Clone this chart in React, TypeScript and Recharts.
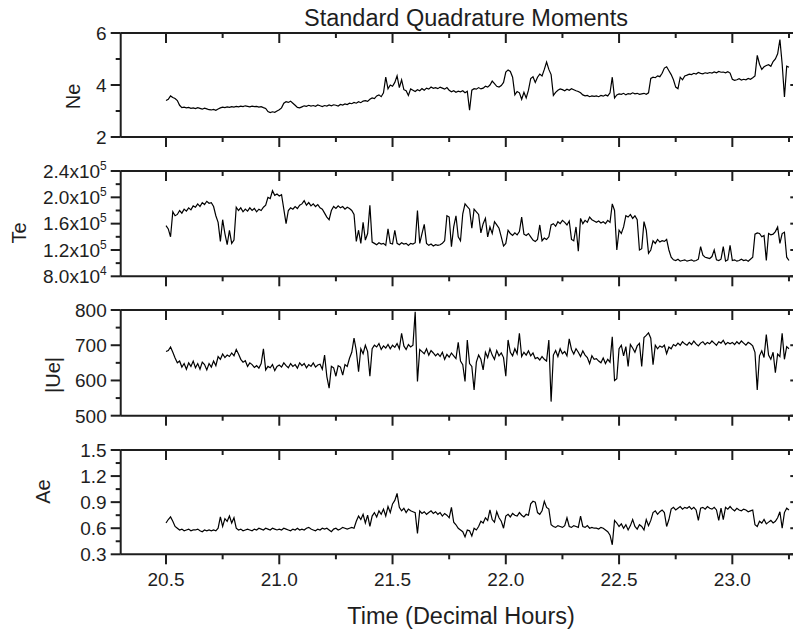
import React from 'react';
import { LineChart, Line, XAxis, YAxis } from 'recharts';

// sampling of the moment series (decimal hours)
const T_START = 20.5;
const T_STEP = 0.01;

const NE = [
  3.40, 3.45, 3.58, 3.52, 3.48, 3.40, 3.22, 3.13, 3.15, 3.12,
  3.14, 3.10, 3.12, 3.09, 3.13, 3.10, 3.07, 3.11, 3.08, 3.05,
  3.04, 3.06, 3.03, 3.08, 3.12, 3.15, 3.13, 3.16, 3.14, 3.17,
  3.15, 3.18, 3.16, 3.19, 3.17, 3.20, 3.18, 3.16, 3.19, 3.17,
  3.18, 3.15, 3.17, 3.13, 3.10, 2.98, 2.94, 2.97, 2.95, 3.00,
  3.05, 3.12, 3.30, 3.36, 3.33, 3.38, 3.30, 3.22, 3.14, 3.12,
  3.16, 3.20, 3.18, 3.22, 3.19, 3.21, 3.18, 3.23, 3.20, 3.17,
  3.21, 3.19, 3.23, 3.20, 3.24, 3.22, 3.19, 3.25, 3.23, 3.27,
  3.25, 3.30, 3.28, 3.33, 3.30, 3.36, 3.32, 3.38, 3.40, 3.37,
  3.45, 3.50, 3.48, 3.58, 3.62, 3.55, 3.70, 4.30, 3.85, 4.00,
  3.95, 4.10, 4.35, 3.90, 4.20, 3.82, 3.78, 3.60, 3.85, 3.80,
  3.75, 3.82, 3.78, 3.86, 3.80, 3.88, 3.84, 3.92, 3.87, 3.90,
  3.86, 3.92, 3.88, 3.84, 3.90, 3.80, 3.74, 3.78, 3.72, 3.76,
  3.74, 3.78, 3.70, 3.76, 3.03, 3.80, 3.86, 3.84, 3.90, 3.85,
  3.88, 3.95, 3.92, 4.00, 4.15, 4.05, 3.95, 3.92, 3.98, 4.10,
  4.50, 4.58, 4.52, 4.30, 3.62, 3.75, 3.70, 3.45, 3.72, 3.50,
  3.80, 4.25, 4.32, 4.10, 4.30, 4.42, 4.35, 4.60, 4.88, 4.60,
  4.40, 3.60, 3.72, 3.80, 3.85, 3.82, 3.78, 3.84, 3.80, 3.86,
  3.82, 3.78, 3.75, 3.70, 3.62, 3.58, 3.60, 3.55, 3.58, 3.56,
  3.58, 3.55, 3.60, 3.57, 3.62, 3.58, 3.70, 4.30, 3.50, 3.62,
  3.66, 3.64, 3.68, 3.62, 3.67, 3.65, 3.70, 3.66, 3.68, 3.64,
  3.66, 3.68, 3.64, 3.70, 4.25, 4.30, 4.28, 4.35, 4.32, 4.45,
  4.65, 4.70, 4.55, 4.40, 4.20, 3.92, 3.86, 4.30, 4.20, 4.35,
  4.38, 4.42, 4.40, 4.45, 4.42, 4.48, 4.45, 4.43, 4.47, 4.45,
  4.48, 4.46, 4.50, 4.47, 4.52, 4.49, 4.50, 4.47, 4.51, 4.46,
  4.22, 4.18, 4.20, 4.24, 4.19, 4.22, 4.20, 4.25, 4.22, 4.28,
  4.35, 5.14, 4.80, 4.60, 4.70, 4.75, 4.78, 4.72, 4.90, 5.00,
  5.20, 5.75, 4.80, 3.54, 4.72, 4.68,
];

const TE = [
  1.57e5, 1.52e5, 1.40e5, 1.78e5, 1.72e5, 1.74e5, 1.80e5, 1.76e5, 1.82e5, 1.79e5,
  1.84e5, 1.81e5, 1.87e5, 1.85e5, 1.90e5, 1.86e5, 1.92e5, 1.89e5, 1.94e5, 1.91e5,
  1.92e5, 1.86e5, 1.72e5, 1.62e5, 1.33e5, 1.66e5, 1.45e5, 1.28e5, 1.50e5, 1.30e5,
  1.35e5, 1.85e5, 1.80e5, 1.84e5, 1.78e5, 1.82e5, 1.79e5, 1.84e5, 1.80e5, 1.83e5,
  1.78e5, 1.82e5, 1.80e5, 1.85e5, 1.88e5, 2.00e5, 1.98e5, 2.10e5, 2.03e5, 2.05e5,
  2.02e5, 2.04e5, 1.82e5, 1.60e5, 1.80e5, 1.84e5, 1.82e5, 1.86e5, 1.83e5, 1.88e5,
  1.90e5, 1.95e5, 1.88e5, 1.92e5, 1.87e5, 1.90e5, 1.86e5, 1.89e5, 1.84e5, 1.82e5,
  1.76e5, 1.70e5, 1.66e5, 1.80e5, 1.86e5, 1.83e5, 1.87e5, 1.84e5, 1.86e5, 1.82e5,
  1.85e5, 1.83e5, 1.80e5, 1.74e5, 1.33e5, 1.50e5, 1.30e5, 1.62e5, 1.35e5, 1.45e5,
  1.88e5, 1.32e5, 1.30e5, 1.28e5, 1.31e5, 1.29e5, 1.30e5, 1.27e5, 1.52e5, 1.30e5,
  1.29e5, 1.50e5, 1.30e5, 1.28e5, 1.31e5, 1.29e5, 1.30e5, 1.27e5, 1.30e5, 1.29e5,
  1.31e5, 1.80e5, 1.30e5, 1.45e5, 1.59e5, 1.30e5, 1.27e5, 1.29e5, 1.26e5, 1.28e5,
  1.27e5, 1.28e5, 1.30e5, 1.34e5, 1.72e5, 1.70e5, 1.25e5, 1.55e5, 1.72e5, 1.40e5,
  1.34e5, 1.75e5, 1.90e5, 1.86e5, 1.82e5, 1.53e5, 1.82e5, 1.78e5, 1.74e5, 1.46e5,
  1.60e5, 1.68e5, 1.40e5, 1.55e5, 1.45e5, 1.63e5, 1.58e5, 1.53e5, 1.40e5, 1.26e5,
  1.30e5, 1.50e5, 1.45e5, 1.42e5, 1.46e5, 1.43e5, 1.48e5, 1.70e5, 1.44e5, 1.42e5,
  1.45e5, 1.40e5, 1.35e5, 1.33e5, 1.36e5, 1.58e5, 1.34e5, 1.38e5, 1.36e5, 1.40e5,
  1.58e5, 1.60e5, 1.56e5, 1.63e5, 1.60e5, 1.65e5, 1.62e5, 1.58e5, 1.64e5, 1.36e5,
  1.34e5, 1.55e5, 1.18e5, 1.68e5, 1.60e5, 1.65e5, 1.62e5, 1.70e5, 1.66e5, 1.64e5,
  1.62e5, 1.64e5, 1.61e5, 1.63e5, 1.60e5, 1.65e5, 1.62e5, 1.90e5, 1.80e5, 1.20e5,
  1.50e5, 1.45e5, 1.55e5, 1.72e5, 1.70e5, 1.74e5, 1.68e5, 1.72e5, 1.66e5, 1.20e5,
  1.22e5, 1.63e5, 1.50e5, 1.15e5, 1.20e5, 1.34e5, 1.30e5, 1.36e5, 1.32e5, 1.34e5,
  1.33e5, 1.36e5, 1.20e5, 1.09e5, 1.05e5, 1.04e5, 1.06e5, 1.03e5, 1.04e5, 1.05e5,
  1.03e5, 1.04e5, 1.05e5, 1.03e5, 1.04e5, 1.06e5, 1.25e5, 1.12e5, 1.09e5, 1.08e5,
  1.07e5, 1.10e5, 1.20e5, 1.05e5, 1.04e5, 1.06e5, 1.25e5, 1.03e5, 1.05e5, 1.27e5,
  1.04e5, 1.05e5, 1.03e5, 1.04e5, 1.06e5, 1.04e5, 1.05e5, 1.03e5, 1.06e5, 1.09e5,
  1.44e5, 1.46e5, 1.45e5, 1.40e5, 1.42e5, 1.04e5, 1.45e5, 1.43e5, 1.44e5, 1.48e5,
  1.55e5, 1.30e5, 1.45e5, 1.47e5, 1.09e5, 1.04e5,
];

const UE = [
  682, 685, 695, 680, 664, 650, 655, 638, 648, 632,
  650, 640, 655, 636, 648, 632, 652, 645, 630, 648,
  638, 655, 642, 668, 660, 675, 665, 672, 668, 678,
  670, 688, 675, 660, 652, 656, 640, 650, 645, 637,
  642, 635, 648, 690, 630, 640, 636, 645, 628, 640,
  644, 638, 650, 642, 636, 648, 640, 645, 635, 650,
  642, 648, 636, 645, 640, 650, 638, 644, 646, 632,
  672, 611, 578, 640, 636, 612, 642, 638, 615, 645,
  640, 663, 680, 720, 685, 625, 690, 676, 700, 682,
  612, 690, 700, 695, 705, 688, 698, 692, 702, 690,
  700, 694, 705, 690, 734, 698, 688, 702, 695, 700,
  795, 597, 688, 682, 676, 690, 672, 685, 678, 670,
  676, 668, 680, 660, 674, 666, 678, 670, 662, 708,
  655, 645, 597, 715, 648, 640, 573, 652, 672, 660,
  630, 680, 665, 690, 672, 660, 685, 670, 678, 665,
  612, 715, 680, 670, 690, 676, 734, 668, 680, 672,
  684, 670, 678, 662, 665, 658, 668, 660, 655, 715,
  540, 672, 685, 668, 690, 676, 682, 670, 718, 688,
  675, 690, 680, 668, 684, 672, 665, 648, 670, 660,
  662, 655, 650, 664, 648, 660, 652, 724, 600, 605,
  690, 700, 670, 696, 640, 702, 692, 680, 698, 705,
  640, 722, 728, 735, 720, 645, 700, 690, 698, 694,
  700, 676, 695, 690, 702, 698, 706, 700, 710, 704,
  700, 708, 702, 712, 704, 698, 706, 710, 702, 708,
  704, 712, 706, 700, 710, 706, 714, 702, 708, 704,
  708, 702, 710, 704, 712, 706, 700, 708, 704, 698,
  680, 573, 670, 684, 665, 730, 672, 660, 680, 622,
  675, 668, 734, 660, 696, 690,
];

const AE = [
  0.66, 0.70, 0.73, 0.68, 0.62, 0.60, 0.58, 0.59, 0.57, 0.58,
  0.59, 0.57, 0.58, 0.58, 0.59, 0.57, 0.56, 0.58, 0.57, 0.58,
  0.57, 0.58, 0.57, 0.60, 0.73, 0.62, 0.71, 0.68, 0.74, 0.66,
  0.72, 0.60, 0.58, 0.59, 0.57, 0.58, 0.59, 0.58, 0.57, 0.59,
  0.58, 0.60, 0.59, 0.58, 0.60, 0.59, 0.58, 0.60, 0.59, 0.58,
  0.59, 0.58, 0.60, 0.59, 0.58, 0.57, 0.59, 0.58, 0.60, 0.58,
  0.59, 0.58, 0.60, 0.61, 0.59, 0.58, 0.57, 0.59, 0.58, 0.60,
  0.59, 0.60, 0.58, 0.56, 0.59, 0.60, 0.58, 0.59, 0.61, 0.60,
  0.59, 0.60, 0.61, 0.60, 0.68, 0.74, 0.70, 0.76, 0.66, 0.75,
  0.62, 0.74, 0.78, 0.73, 0.80, 0.76, 0.82, 0.74, 0.85, 0.78,
  0.88, 0.92, 1.00, 0.84, 0.80, 0.83, 0.78, 0.82, 0.80, 0.79,
  0.78, 0.54, 0.80, 0.77, 0.79, 0.76, 0.78, 0.80, 0.77, 0.79,
  0.76, 0.78, 0.74, 0.77, 0.75, 0.72, 0.84, 0.67, 0.64, 0.60,
  0.58, 0.56, 0.50, 0.58, 0.57, 0.51, 0.60, 0.58, 0.62, 0.68,
  0.66, 0.72, 0.69, 0.81, 0.70, 0.67, 0.79, 0.72, 0.68, 0.60,
  0.74, 0.76, 0.73, 0.77, 0.75, 0.74, 0.78, 0.75, 0.73, 0.76,
  0.75, 0.88, 0.91, 0.90, 0.78, 0.76, 0.80, 0.91, 0.84, 0.82,
  0.64, 0.62, 0.61, 0.63, 0.62, 0.61, 0.63, 0.72, 0.62, 0.61,
  0.63, 0.62, 0.61, 0.74, 0.62, 0.61, 0.63, 0.60, 0.61, 0.60,
  0.60, 0.59, 0.61, 0.60, 0.58, 0.56, 0.52, 0.41, 0.69, 0.66,
  0.62, 0.65, 0.60, 0.64, 0.58, 0.63, 0.70, 0.62, 0.59, 0.64,
  0.62, 0.58, 0.70, 0.63, 0.69, 0.78, 0.80, 0.76, 0.79, 0.81,
  0.78, 0.62, 0.70, 0.82, 0.84, 0.81, 0.83, 0.85, 0.82, 0.84,
  0.83, 0.85, 0.82, 0.84, 0.81, 0.69, 0.83, 0.84, 0.82, 0.85,
  0.83, 0.82, 0.84, 0.81, 0.69, 0.83, 0.70, 0.84, 0.82, 0.85,
  0.82, 0.80, 0.83, 0.81, 0.80, 0.82, 0.81, 0.79, 0.80, 0.81,
  0.64, 0.62, 0.68, 0.66, 0.70, 0.65, 0.67, 0.69, 0.66, 0.68,
  0.72, 0.79, 0.60, 0.78, 0.83, 0.81,
];

const TIME_TICKS = [20.5, 20.75, 21, 21.25, 21.5, 21.75, 22, 22.25, 22.5, 22.75, 23, 23.25];
const NE_TICKS = [2, 3, 4, 5, 6];
const NE_MAJOR = [2, 4, 6];
const TE_TICKS = [80000, 100000, 120000, 140000, 160000, 180000, 200000, 220000, 240000];
const TE_MAJOR = [80000, 120000, 160000, 200000, 240000];
const UE_TICKS = [500, 550, 600, 650, 700, 750, 800];
const UE_MAJOR = [500, 600, 700, 800];
const AE_TICKS = [0.3, 0.45, 0.6, 0.75, 0.9, 1.05, 1.2, 1.35, 1.5];
const AE_MAJOR = [0.3, 0.6, 0.9, 1.2, 1.5];

const rows = NE.map((ne, i) => ({
  t: +(T_START + i * T_STEP).toFixed(2),
  ne,
  te: TE[i],
  ue: UE[i],
  ae: AE[i],
}));

const FONT = '"Liberation Sans", Arial, Helvetica, sans-serif';
const INK = '#1e1e1e';
const PAD_TOP = 20;
const PAD_BOTTOM = 50;
const PLOT_LEFT = 120.7;
const PLOT_RIGHT = 800.3;
const CHART_W = 812;
const MAJOR_LEN = 10;
const MINOR_LEN = 5;

type Panel = {
  key: 'ne' | 'te' | 'ue' | 'ae';
  name: string;
  top: number;
  height: number;
  domain: [number, number];
  ticks: number[];
  major: number[];
  label: (v: number) => React.ReactNode;
  nameX: number;
  nameY: number;
  timeLabels?: boolean;
};

const sci = (v: number) => {
  const e = Math.floor(Math.log10(v));
  const m = (v / Math.pow(10, e)).toFixed(1);
  return (
    <>
      <tspan>{`${m}x10`}</tspan>
      <tspan dy={-8} fontSize={12}>{e}</tspan>
    </>
  );
};

const PANELS: Panel[] = [
  { key: 'ne', name: 'Ne', top: 32.7, height: 104, domain: [2, 6], ticks: NE_TICKS, major: NE_MAJOR,
    label: (v) => String(v), nameX: 72.5, nameY: 96.5 },
  { key: 'te', name: 'Te', top: 170.7, height: 105.3, domain: [80000, 240000], ticks: TE_TICKS, major: TE_MAJOR,
    label: sci, nameX: 18.5, nameY: 233 },
  { key: 'ue', name: '|Ue|', top: 310, height: 105.7, domain: [500, 800], ticks: UE_TICKS, major: UE_MAJOR,
    label: (v) => String(v), nameX: 52.5, nameY: 375 },
  { key: 'ae', name: 'Ae', top: 450, height: 104.3, domain: [0.3, 1.5], ticks: AE_TICKS, major: AE_MAJOR,
    label: (v) => v.toFixed(1), nameX: 42.5, nameY: 491.5, timeLabels: true },
];

const isMajor = (list: number[], v: number) => list.some((m) => Math.abs(m - v) < 1e-9);

function PanelChart({ p }: { p: Panel }) {
  const bottom = PAD_TOP + p.height;

  // time ticks: outward below the panel, inward along its top edge
  const timeTick = (props: any) => {
    const { x, payload } = props;
    const v = payload.value as number;
    const major = Math.abs(v * 2 - Math.round(v * 2)) < 1e-6;
    const len = major ? MAJOR_LEN : MINOR_LEN;
    return (
      <g>
        <line x1={x} y1={bottom} x2={x} y2={bottom + len} stroke={INK} strokeWidth={2} />
        <line x1={x} y1={PAD_TOP} x2={x} y2={PAD_TOP + len} stroke={INK} strokeWidth={2} />
        {p.timeLabels && major && (
          <text x={x} y={bottom + 32} textAnchor="middle" fontSize={19} fontFamily={FONT} fill={INK}>
            {v.toFixed(1)}
          </text>
        )}
      </g>
    );
  };

  // value ticks: outward on the left with labels, inward on the right edge
  const valueTick = (props: any) => {
    const { y, payload } = props;
    const v = payload.value as number;
    const major = isMajor(p.major, v);
    const len = major ? MAJOR_LEN : MINOR_LEN;
    return (
      <g>
        <line x1={PLOT_LEFT - len} y1={y} x2={PLOT_LEFT} y2={y} stroke={INK} strokeWidth={2} />
        <line x1={PLOT_RIGHT - len} y1={y} x2={PLOT_RIGHT} y2={y} stroke={INK} strokeWidth={2} />
        {major && (
          <text x={PLOT_LEFT - 14} y={y} dy="0.36em" textAnchor="end" fontSize={19} fontFamily={FONT} fill={INK}>
            {p.label(v)}
          </text>
        )}
      </g>
    );
  };

  // each x axis takes a 1px band, so the margins give that pixel back
  return (
    <div style={{ position: 'absolute', left: 0, top: p.top - PAD_TOP }}>
      <LineChart
        width={CHART_W}
        height={p.height + PAD_TOP + PAD_BOTTOM}
        data={rows}
        margin={{ top: PAD_TOP - 1, right: CHART_W - PLOT_RIGHT, bottom: PAD_BOTTOM - 1, left: 0 }}
      >
        <XAxis
          xAxisId="b"
          dataKey="t"
          type="number"
          domain={[20.3, 23.3]}
          allowDataOverflow
          ticks={TIME_TICKS}
          interval={0}
          height={1}
          axisLine={{ stroke: INK, strokeWidth: 2 }}
          tickLine={false}
          tick={timeTick}
        />
        <XAxis
          xAxisId="t"
          orientation="top"
          type="number"
          domain={[20.3, 23.3]}
          allowDataOverflow
          height={1}
          axisLine={{ stroke: INK, strokeWidth: 2 }}
          tickLine={false}
          tick={false}
        />
        <YAxis
          yAxisId="l"
          type="number"
          domain={p.domain}
          allowDataOverflow
          ticks={p.ticks}
          interval={0}
          width={PLOT_LEFT}
          axisLine={{ stroke: INK, strokeWidth: 2 }}
          tickLine={false}
          tick={valueTick}
        />
        <Line
          xAxisId="b"
          yAxisId="l"
          type="linear"
          dataKey={p.key}
          stroke="#000"
          strokeWidth={1.2}
          dot={false}
          isAnimationActive={false}
        />
      </LineChart>
    </div>
  );
}

export default function App() {
  return (
    <div
      style={{
        position: 'absolute',
        left: 0,
        top: 0,
        width: 793,
        height: 633,
        overflow: 'hidden',
        background: '#fff',
      }}
    >
      {PANELS.map((p) => (
        <PanelChart key={p.key} p={p} />
      ))}
      <svg width={793} height={633} style={{ position: 'absolute', left: 0, top: 0, pointerEvents: 'none' }}>
        <text x={466} y={26} textAnchor="middle" fontSize={23.5} fontFamily={FONT} fill={INK}>
          Standard Quadrature Moments
        </text>
        <text x={461} y={624} textAnchor="middle" fontSize={23.5} fontFamily={FONT} fill={INK}>
          Time (Decimal Hours)
        </text>
        {PANELS.map((p) => (
          <text
            key={p.key}
            x={p.nameX}
            y={p.nameY}
            textAnchor="middle"
            dominantBaseline="central"
            fontSize={20}
            fontFamily={FONT}
            fill={INK}
            transform={`rotate(-90 ${p.nameX} ${p.nameY})`}
          >
            {p.name}
          </text>
        ))}
      </svg>
    </div>
  );
}
